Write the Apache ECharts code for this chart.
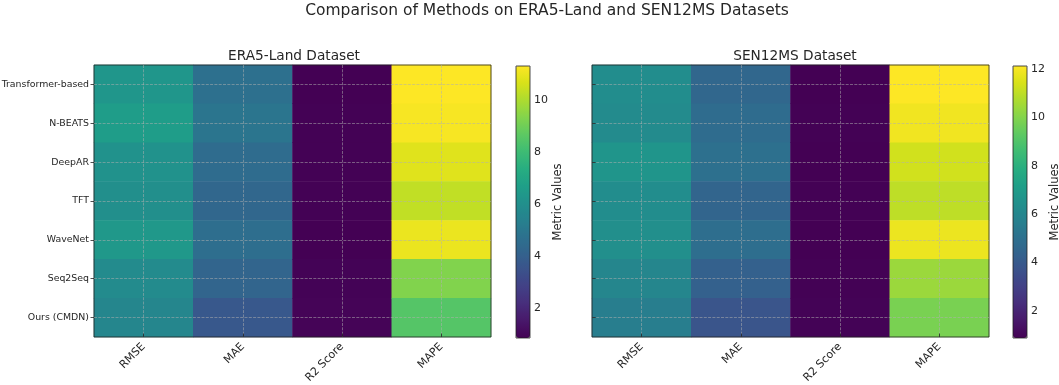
<!DOCTYPE html>
<html>
<head>
<meta charset="utf-8">
<script src="https://cdn.jsdelivr.net/npm/echarts@6/dist/echarts.min.js"></script>
<style>
html,body{margin:0;padding:0;background:#fff;}
#chart{width:1059px;height:385px;}
</style>
</head>
<body>
<div id="chart"></div>
<script>
// ---- data ----
const methods = ["Transformer-based", "N-BEATS", "DeepAR", "TFT", "WaveNet", "Seq2Seq", "Ours (CMDN)"];
const metrics = ["RMSE", "MAE", "R2 Score", "MAPE"];

const era5RMSE = [6.3, 6.6, 6.1, 6.0, 6.4, 5.8, 5.6];
const era5MAE  = [4.7, 4.9, 4.5, 4.3, 4.6, 4.2, 3.7];
const era5R2   = [0.85, 0.87, 0.86, 0.88, 0.84, 0.89, 0.93];
const era5MAPE = [11.31, 11.2, 10.8, 10.3, 11.0, 9.3, 8.5];

const senRMSE = [6.3, 6.2, 6.7, 6.3, 6.4, 6.0, 5.6];
const senMAE  = [4.6, 4.8, 5.0, 4.5, 4.9, 4.3, 3.8];
const senR2   = [0.89, 0.90, 0.88, 0.91, 0.89, 0.90, 0.94];
const senMAPE = [12.12, 11.9, 11.3, 11.0, 11.8, 10.4, 9.8];

const era5Ticks = [2, 4, 6, 8, 10];
const senTicks  = [2, 4, 6, 8, 10, 12];

const viridis = ['#440154','#48186a','#472d7b','#424086','#3b528b','#33638d','#2c728e','#26828e',
                 '#21918c','#1fa088','#28ae80','#3fbc73','#5ec962','#84d44b','#addc30','#d8e219','#fde725'];

function buildCells(cols) {
  const out = [];
  cols.forEach((arr, xi) => arr.forEach((v, yi) => out.push([xi, yi, v])));
  return out;
}
const era5Cells = buildCells([era5RMSE, era5MAE, era5R2, era5MAPE]);
const senCells  = buildCells([senRMSE, senMAE, senR2, senMAPE]);
const rng = cells => {
  const vals = cells.map(c => c[2]);
  return [Math.min(...vals), Math.max(...vals)];
};
const era5Range = rng(era5Cells);
const senRange  = rng(senCells);

const FONT = 'DejaVu Sans';
const TXT = '#262626';
const gridLine = {show: true, alignWithLabel: true, lineStyle: {color: 'rgba(176,176,176,0.65)', width: 0.8, type: [3, 1.3]}};

function heatX(gi) {
  return {
    type: 'category', gridIndex: gi, data: metrics, z: 10,
    axisLine: {show: false},
    axisTick: {show: true, alignWithLabel: true, inside: true, length: 3.5, lineStyle: {color: '#222', width: 0.8}},
    axisLabel: {rotate: 45, interval: 0, margin: 8, fontSize: 11, color: TXT, fontFamily: FONT},
    splitLine: gridLine
  };
}
function heatY(gi, labels) {
  return {
    type: 'category', gridIndex: gi, data: methods, inverse: true, z: 10,
    axisLine: {show: false},
    axisTick: {show: true, alignWithLabel: true, inside: !labels, length: 3.5, lineStyle: {color: '#222', width: 0.8}},
    axisLabel: {show: labels, interval: 0, margin: 5, fontSize: 9.4, color: TXT, fontFamily: FONT},
    splitLine: gridLine
  };
}
function cbY(gi, range, ticks) {
  return {
    type: 'value', gridIndex: gi, position: 'right', min: range[0], max: range[1],
    axisLine: {show: false},
    axisTick: {show: true, customValues: ticks, length: 3.5, lineStyle: {color: '#222', width: 0.8}},
    axisLabel: {show: true, customValues: ticks, margin: 4, fontSize: 11, color: TXT, fontFamily: FONT},
    splitLine: {show: false},
    name: 'Metric Values', nameLocation: 'middle', nameGap: 22,
    nameTextStyle: {fontSize: 11.5, color: TXT, fontFamily: FONT}
  };
}
function cbX(gi) {
  return {type: 'value', gridIndex: gi, show: false, min: 0, max: 1};
}
function mkGrid(left, top, width, height) {
  return {left, top, width, height, show: true, z: 10, backgroundColor: 'transparent',
          borderColor: '#222', borderWidth: 0.8, containLabel: false, outerBoundsMode: 'none'};
}

const option = {
  backgroundColor: '#fff',
  animation: false,
  textStyle: {fontFamily: FONT},
  title: [
    {text: 'Comparison of Methods on ERA5-Land and SEN12MS Datasets', left: 542, textAlign: 'center', top: -2,
     textStyle: {fontSize: 15.5, fontWeight: 'normal', color: TXT, fontFamily: FONT}},
    {text: 'ERA5-Land Dataset', left: 289, textAlign: 'center', top: 44,
     textStyle: {fontSize: 13.7, fontWeight: 'normal', color: TXT, fontFamily: FONT}},
    {text: 'SEN12MS Dataset', left: 790, textAlign: 'center', top: 44,
     textStyle: {fontSize: 13.7, fontWeight: 'normal', color: TXT, fontFamily: FONT}}
  ],
  grid: [
    mkGrid(94, 65, 397, 272),
    mkGrid(592, 65, 397, 272),
    mkGrid(516, 66, 14, 272),
    mkGrid(1013, 66, 14, 272)
  ],
  xAxis: [heatX(0), heatX(1), cbX(2), cbX(3)],
  yAxis: [heatY(0, true), heatY(1, false), cbY(2, era5Range, era5Ticks), cbY(3, senRange, senTicks)],
  visualMap: [
    {type: 'continuous', seriesIndex: 0, min: era5Range[0], max: era5Range[1], orient: 'vertical',
     left: 516, top: 66, itemWidth: 14, itemHeight: 272, padding: 0, calculable: false, hoverLink: false,
     inRange: {color: viridis}},
    {type: 'continuous', seriesIndex: 1, min: senRange[0], max: senRange[1], orient: 'vertical',
     left: 1013, top: 66, itemWidth: 14, itemHeight: 272, padding: 0, calculable: false, hoverLink: false,
     inRange: {color: viridis}}
  ],
  series: [
    {type: 'heatmap', xAxisIndex: 0, yAxisIndex: 0, data: era5Cells, itemStyle: {borderWidth: 0}, emphasis: {disabled: true}},
    {type: 'heatmap', xAxisIndex: 1, yAxisIndex: 1, data: senCells, itemStyle: {borderWidth: 0}, emphasis: {disabled: true}}
  ]
};

const chart = echarts.init(document.getElementById('chart'), null, {renderer: 'canvas'});
chart.setOption(option);
</script>
</body>
</html>
